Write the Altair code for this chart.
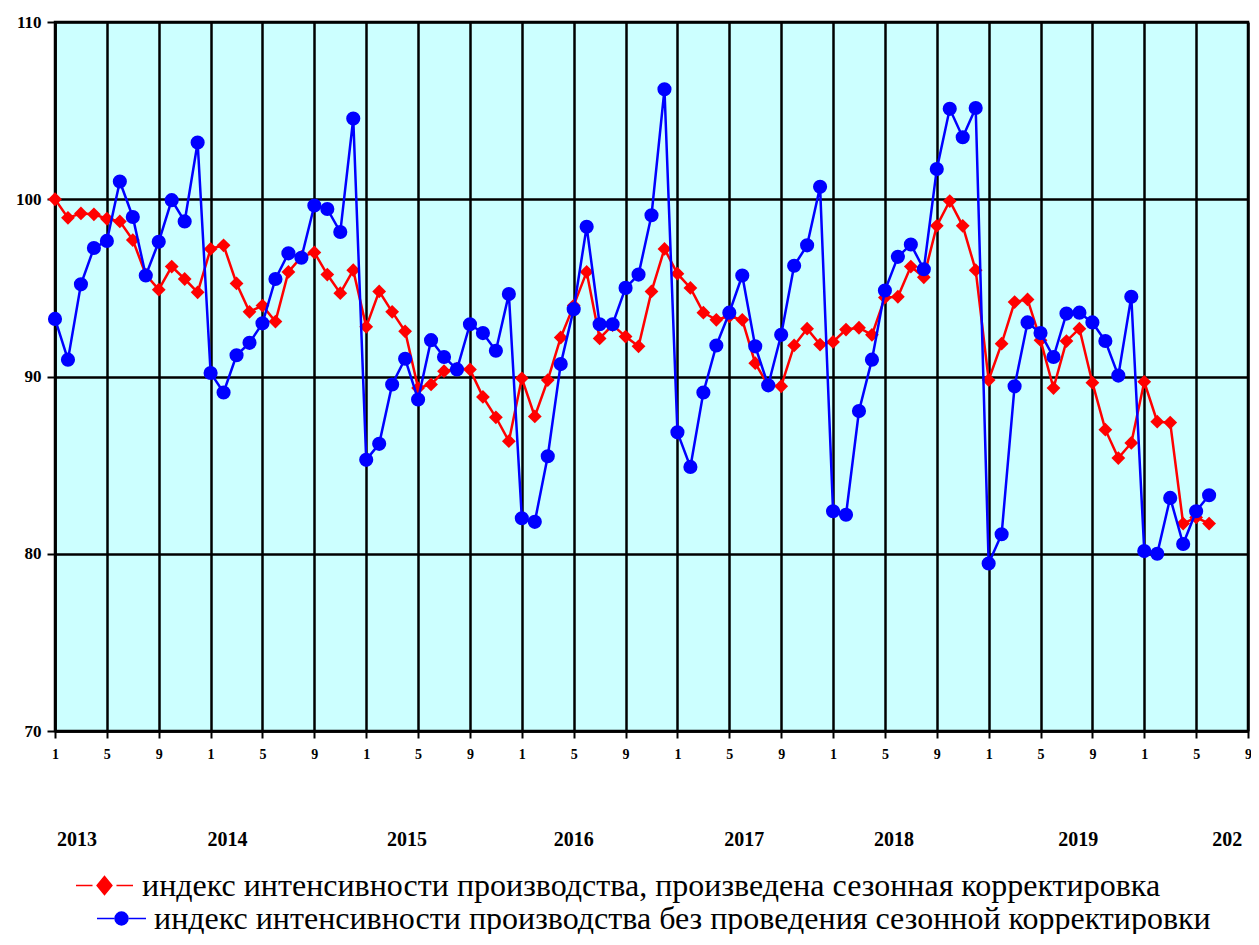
import altair as alt
import pandas as pd

months = list(range(1, 91))

adjusted = [100.0, 98.95, 99.2, 99.15, 98.9, 98.75, 97.7, 95.75, 94.9, 96.2, 95.5, 94.75,
            97.2, 97.4, 95.25, 93.65, 94.0, 93.1, 95.9, 96.75, 97.0, 95.75, 94.7, 96.0,
            92.8, 94.8, 93.65, 92.55, 89.35, 89.55, 90.3, 90.45, 90.4, 88.85, 87.7, 86.35,
            89.9, 87.75, 89.8, 92.2, 94.0, 95.9, 92.15, 92.9, 92.25, 91.7, 94.8, 97.2,
            95.8, 95.0, 93.6, 93.2, 93.4, 93.2, 90.75, 89.5, 89.45, 91.75, 92.7, 91.8,
            91.95, 92.65, 92.75, 92.35, 94.45, 94.5, 96.2, 95.6, 98.5, 99.9, 98.5, 96.0,
            89.8, 91.85, 94.2, 94.35, 92.05, 89.35, 92.0, 92.7, 89.65, 87.0, 85.4, 86.25,
            89.7, 87.45, 87.4, 81.7, 82.05, 81.7]

raw = [93.25, 90.95, 95.2, 97.25, 97.65, 101.0, 99.0, 95.7, 97.6, 99.95, 98.75, 103.2,
       90.2, 89.1, 91.2, 91.9, 93.0, 95.5, 96.95, 96.7, 99.65, 99.45, 98.15, 104.55,
       85.3, 86.2, 89.55, 91.0, 88.7, 92.05, 91.1, 90.4, 92.95, 92.45, 91.45, 94.65,
       82.0, 81.8, 85.5, 90.7, 93.8, 98.45, 92.95, 92.95, 95.0, 95.75, 99.1, 106.2,
       86.85, 84.9, 89.1, 91.75, 93.6, 95.7, 91.7, 89.5, 92.35, 96.25, 97.4, 100.7,
       82.4, 82.2, 88.05, 90.95, 94.85, 96.75, 97.45, 96.05, 101.7, 105.1, 103.5, 105.15,
       79.45, 81.1, 89.45, 93.05, 92.45, 91.1, 93.55, 93.6, 93.05, 92.0, 90.05, 94.5,
       80.15, 80.0, 83.15, 80.55, 82.4, 83.3]

series_names = [
    "индекс интенсивности производства, произведена сезонная корректировка",
    "индекс интенсивности производства без проведения сезонной корректировки",
]
series_colors = ["#FF0000", "#0000FF"]

year_labels = ["2013", "2014", "2015", "2016", "2017", "2018", "2019", "202"]
year_pos = [2.7, 14.3, 28.15, 41.0, 54.15, 65.7, 79.9, 91.4]

x_ticks = list(range(1, 94, 4))
y_ticks = [70, 80, 90, 100, 110]

df_adj = pd.DataFrame({"month": months, "value": adjusted})
df_raw = pd.DataFrame({"month": months, "value": raw})
df_years = pd.DataFrame({"pos": year_pos, "label": year_labels})

x_scale = alt.Scale(domain=[1, 93], nice=False, zero=False)
y_scale = alt.Scale(domain=[70, 110], nice=False, zero=False)

x_enc = alt.X("month:Q", scale=x_scale,
              axis=alt.Axis(values=x_ticks, labelExpr="(datum.value - 1) % 12 + 1",
                            title=None, tickSize=7, labelPadding=9, labelFontSize=14,
                            labelFlush=False, labelOverlap=False))
y_enc = alt.Y("value:Q", scale=y_scale,
              axis=alt.Axis(values=y_ticks, format="d", title=None, tickSize=8,
                            labelPadding=6, labelFontSize=17))


def series_layers(df, color, shape, size):
    base = alt.Chart(df).encode(x=x_enc, y=y_enc)
    line = base.mark_line(color=color, strokeWidth=2.5)
    pts = base.mark_point(color=color, shape=shape, filled=True, size=size, opacity=1)
    return line + pts


red = series_layers(df_adj, series_colors[0], "diamond", 190)
blue = series_layers(df_raw, series_colors[1], "circle", 200)

years = alt.Chart(df_years).mark_text(
    font="Liberation Serif", fontWeight="bold", fontSize=20, color="black",
    baseline="middle", align="center"
).encode(x=alt.X("pos:Q", scale=x_scale), y=alt.value(818), text="label:N")

diamond_path = "M-1,0L-0.42,0M0.42,0L1,0M0,-0.32L0.26,0L0,0.32L-0.26,0Z"
circle_path = "M-1,0L-0.3,0M0.3,0L1,0M0.265,0A0.265,0.265,0,1,1,-0.265,0A0.265,0.265,0,1,1,0.265,0Z"


def legend_layer(field, name, color, path, lx, ly, sym_size, offset):
    df = pd.DataFrame({field: [name]})
    leg = alt.Legend(orient="none", legendX=lx, legendY=ly, title=None, padding=0,
                     labelFont="Liberation Serif", labelFontSize=32, labelColor="black",
                     labelLimit=1200, symbolSize=sym_size, symbolStrokeWidth=1.5,
                     labelOffset=offset, symbolOpacity=1)
    return alt.Chart(df).mark_point(filled=True).encode(
        x=alt.value(-60), y=alt.value(-60),
        fill=alt.Fill(f"{field}:N", scale=alt.Scale(domain=[name], range=[color]), legend=leg),
        stroke=alt.Stroke(f"{field}:N", scale=alt.Scale(domain=[name], range=[color]), legend=leg),
        shape=alt.Shape(f"{field}:N", scale=alt.Scale(domain=[name], range=[path]), legend=leg),
    )


leg1 = legend_layer("s1", series_names[0], series_colors[0], diamond_path, 20, 834, 3249, 8)
leg2 = legend_layer("s2", series_names[1], series_colors[1], circle_path, 41, 871, 2401, 7)

chart = alt.layer(red, blue, years, leg1, leg2).resolve_scale(
    fill="independent", stroke="independent", shape="independent"
).resolve_legend(
    fill="independent", stroke="independent", shape="independent"
).properties(
    width=1193, height=709,
    padding={"left": 47, "top": 14, "right": 3, "bottom": 203},
    autosize=alt.AutoSizeParams(type="none"),
).configure_view(
    fill="#CCFFFF", stroke="black", strokeWidth=2.5
).configure_axis(
    grid=True, gridColor="black", gridWidth=2.5, gridOpacity=1,
    domainColor="black", domainWidth=2.5, tickColor="black", tickWidth=2,
    labelFont="Liberation Serif", labelFontWeight="bold", labelColor="black",
).configure_legend(
    labelFont="Liberation Serif", labelFontSize=32, labelColor="black",
)

chart.save("out.html", embed_options={"renderer": "svg", "actions": False})
